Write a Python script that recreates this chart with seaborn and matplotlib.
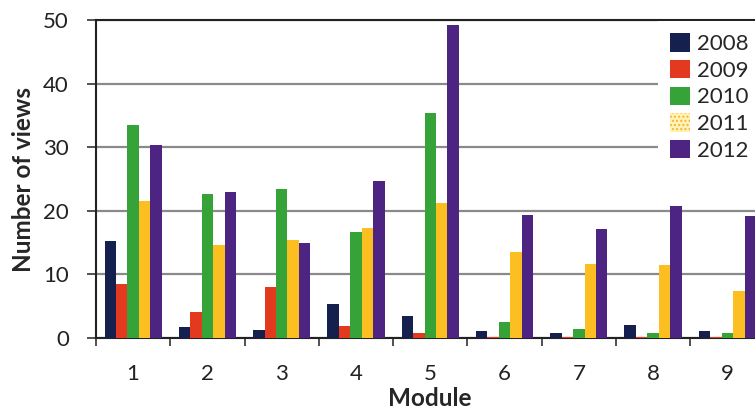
import numpy as np
import pandas as pd
import seaborn as sns
import matplotlib.pyplot as plt
from matplotlib.ticker import FixedLocator

modules = ['1', '2', '3', '4', '5', '6', '7', '8', '9']
years = ['2008', '2009', '2010', '2011', '2012']
v2008 = [15.2, 1.8, 1.3, 5.4, 3.5, 1.1, 0.8, 2.0, 1.1]
v2009 = [8.5, 4.1, 8.0, 1.9, 0.8, 0.2, 0.2, 0.2, 0.2]
v2010 = [33.5, 22.7, 23.5, 16.6, 35.3, 2.5, 1.4, 0.8, 0.8]
v2011 = [21.5, 14.6, 15.4, 17.3, 21.2, 13.5, 11.7, 11.5, 7.4]
v2012 = [30.3, 22.9, 14.9, 24.7, 49.2, 19.4, 17.1, 20.7, 19.2]
colors = ['#15204f', '#e2391f', '#36a338', '#fcbf22', '#4e2482']
yticks = [0, 10, 20, 30, 40, 50]

series = [v2008, v2009, v2010, v2011, v2012]
df = pd.DataFrame({
    'Module': [m for s in series for m in modules],
    'Year': [y for y, s in zip(years, series) for _ in s],
    'Views': [v for s in series for v in s],
})

sns.set_style('white')
plt.rcParams['font.family'] = ['Lato', 'DejaVu Sans']

fig = plt.figure(figsize=(7.55, 4.11), dpi=100)
ax = fig.add_axes([96 / 755, 73 / 411, (764.5 - 96) / 755, 318 / 411])

sns.barplot(data=df, x='Module', y='Views', hue='Year', order=modules,
            hue_order=years, palette=colors, width=0.77, gap=0,
            saturation=1, linewidth=0, ax=ax, zorder=3)

ax.set_ylim(0, 50)
ax.set_xlim(-0.5, 8.5)
ax.set_yticks(yticks)
ax.set_yticklabels([str(t) for t in yticks], fontsize=16, color='#222222')
ax.yaxis.grid(True, color='#8a8a8a', linewidth=1.6, zorder=0)
ax.set_axisbelow(True)
ax.tick_params(axis='y', direction='out', length=6.5, width=1.2, color='#333333', left=True, pad=13)
ax.xaxis.set_minor_locator(FixedLocator(np.arange(-0.5, 9.0, 1.0)))
ax.tick_params(axis='x', which='minor', direction='out', length=6, width=1.2, color='#333333', bottom=True)
ax.tick_params(axis='x', which='major', length=0, labelsize=16, pad=19, labelcolor='#222222')

for s in ['left', 'bottom', 'top', 'right']:
    ax.spines[s].set_color('#222222')
    ax.spines[s].set_linewidth(1.5)

ax.set_xlabel('Module', fontsize=17.5, fontweight='bold')
ax.xaxis.set_label_coords(0.5, -(387 - 338) / 318)
ax.set_ylabel('Number of views', fontsize=17.5, fontweight='bold', labelpad=6)

leg = ax.legend(loc='upper left', bbox_to_anchor=(658 / 755, 1 - 21 / 411),
                bbox_transform=fig.transFigure, frameon=True, facecolor='white',
                edgecolor='none', framealpha=1, fontsize=16, handlelength=0.9,
                handleheight=0.9, handletextpad=0.3, labelspacing=0.26,
                borderpad=0.55, borderaxespad=0, title=None, fancybox=False)
leg.set_zorder(5)
h = leg.legend_handles[3]
h.set_facecolor('#fff2b8')
h.set_edgecolor('#f7b52a')
h.set_hatch('....')
h.set_linewidth(0)

fig.savefig('out.png', dpi=100)
